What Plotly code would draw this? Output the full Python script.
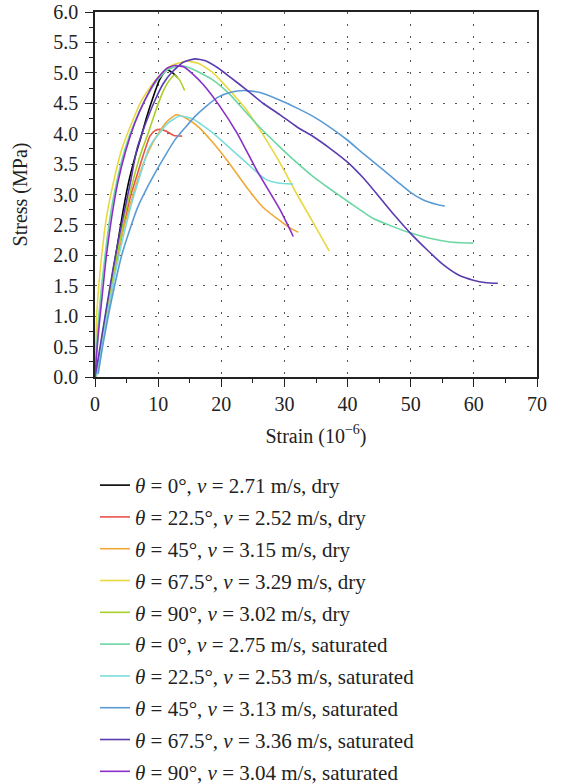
import plotly.graph_objects as go

# Strain (1e-6) and stress (MPa) for each test
labels = [
    "<i>θ</i> = 0°, <i>v</i> = 2.71 m/s, dry",
    "<i>θ</i> = 22.5°, <i>v</i> = 2.52 m/s, dry",
    "<i>θ</i> = 45°, <i>v</i> = 3.15 m/s, dry",
    "<i>θ</i> = 67.5°, <i>v</i> = 3.29 m/s, dry",
    "<i>θ</i> = 90°, <i>v</i> = 3.02 m/s, dry",
    "<i>θ</i> = 0°, <i>v</i> = 2.75 m/s, saturated",
    "<i>θ</i> = 22.5°, <i>v</i> = 2.53 m/s, saturated",
    "<i>θ</i> = 45°, <i>v</i> = 3.13 m/s, saturated",
    "<i>θ</i> = 67.5°, <i>v</i> = 3.36 m/s, saturated",
    "<i>θ</i> = 90°, <i>v</i> = 3.04 m/s, saturated",
]
colors = ["#000000", "#e8534a", "#f0a838", "#e8d840", "#a8d028",
          "#6cd6a4", "#7cdcdc", "#5b9bd5", "#5a3cb0", "#8a2ec8"]

x_dry0 = [0, 0.6, 1.3, 2.0, 2.8, 3.6, 4.4, 5.3, 6.3, 7.3, 8.2, 9.2, 10.2, 11.3, 12.3, 13.0]
y_dry0 = [0, 0.3, 0.75, 1.2, 1.7, 2.2, 2.7, 3.19, 3.6, 3.95, 4.28, 4.6, 4.88, 5.05, 5.0, 4.93]

x_dry22 = [0, 0.7, 1.5, 2.3, 3.1, 3.9, 4.8, 5.7, 6.6, 7.4, 8.7, 9.5, 10.3, 11.3, 12.5, 13.8]
y_dry22 = [0, 0.3, 0.75, 1.2, 1.7, 2.15, 2.6, 3.0, 3.3, 3.57, 3.96, 4.05, 4.07, 4.04, 3.97, 3.96]

x_dry45 = [0.2, 0.9, 2.1, 3.1, 4.2, 5.0, 5.8, 6.8, 7.9, 9.0, 10.0, 11.4, 12.9, 14.5, 16.5, 18.7, 21.0, 24.0, 26.6, 29.8, 31.2, 32.2]
y_dry45 = [0, 0.4, 1.22, 1.8, 2.31, 2.62, 2.91, 3.25, 3.57, 3.82, 4.0, 4.2, 4.31, 4.25, 4.1, 3.85, 3.55, 3.12, 2.79, 2.53, 2.43, 2.38]

x_dry67 = [0, 0.12, 0.26, 0.6, 1.05, 1.84, 2.9, 4.2, 5.8, 7.4, 9.5, 12.1, 14.5, 16.5, 18.7, 21.0, 24.0, 26.5, 29.3, 32.0, 34.6, 37.1]
y_dry67 = [0, 0.5, 1.0, 1.5, 1.99, 2.64, 3.19, 3.73, 4.17, 4.55, 4.87, 5.12, 5.19, 5.15, 5.0, 4.75, 4.39, 4.0, 3.52, 3.0, 2.53, 2.07]

x_dry90 = [0, 0.6, 1.4, 2.2, 3.0, 3.8, 4.7, 5.6, 6.6, 7.5, 8.4, 9.2, 10.0, 10.9, 11.8, 12.6, 13.4, 14.2]
y_dry90 = [0, 0.3, 0.8, 1.25, 1.72, 2.18, 2.65, 3.05, 3.45, 3.75, 4.0, 4.25, 4.49, 4.72, 4.88, 4.96, 4.88, 4.71]

x_sat0 = [0, 0.25, 0.6, 1.0, 1.6, 2.4, 3.4, 4.7, 6.2, 7.9, 9.8, 11.5, 13.5, 15.5, 18.7, 21.5, 24.0, 26.5, 29.3, 32.0, 34.6, 37.5, 40.4, 44.0, 47.0, 49.9, 53.0, 56.2, 59.9]
y_sat0 = [0, 0.5, 1.0, 1.45, 2.0, 2.64, 3.19, 3.73, 4.17, 4.55, 4.87, 5.05, 5.12, 5.06, 4.88, 4.63, 4.34, 4.06, 3.78, 3.52, 3.29, 3.07, 2.86, 2.61, 2.48, 2.37, 2.28, 2.22, 2.2]

x_sat22 = [0.1, 0.8, 1.8, 2.8, 3.8, 4.8, 5.8, 6.8, 7.6, 8.4, 9.2, 10.0, 11.5, 13.4, 15.5, 18.7, 21.5, 24.0, 26.0, 27.2, 29.0, 31.4]
y_sat22 = [0, 0.35, 0.95, 1.5, 2.0, 2.45, 2.85, 3.2, 3.47, 3.73, 3.88, 3.98, 4.17, 4.29, 4.24, 4.01, 3.75, 3.52, 3.33, 3.24, 3.19, 3.17]

x_sat45 = [0.5, 1.2, 2.1, 3.1, 4.2, 5.5, 6.8, 8.1, 9.5, 11.0, 12.6, 14.2, 15.8, 17.6, 19.5, 21.5, 23.5, 26.0, 29.3, 32.0, 34.6, 37.0, 39.9, 42.5, 45.6, 48.0, 49.9, 52.0, 54.0, 55.4]
y_sat45 = [0.05, 0.5, 1.0, 1.5, 1.99, 2.42, 2.8, 3.08, 3.35, 3.62, 3.89, 4.09, 4.28, 4.45, 4.6, 4.68, 4.71, 4.68, 4.55, 4.42, 4.28, 4.12, 3.9, 3.67, 3.41, 3.2, 3.04, 2.91, 2.84, 2.81]

x_sat67 = [0, 0.5, 1.2, 2.0, 2.9, 3.8, 4.8, 5.7, 6.6, 7.6, 8.5, 9.5, 10.8, 12.1, 13.9, 15.8, 17.5, 19.5, 21.4, 24.0, 26.6, 29.3, 32.0, 34.6, 37.2, 39.9, 42.5, 45.1, 47.5, 49.9, 52.5, 55.1, 57.5, 59.9, 62.0, 63.8]
y_sat67 = [0, 0.3, 0.75, 1.25, 1.8, 2.3, 2.8, 3.25, 3.73, 4.05, 4.3, 4.55, 4.82, 5.0, 5.17, 5.23, 5.2, 5.08, 4.93, 4.72, 4.5, 4.31, 4.11, 3.95, 3.76, 3.54, 3.27, 2.95, 2.65, 2.37, 2.1, 1.85, 1.68, 1.59, 1.55, 1.54]

x_sat90 = [0, 0.35, 0.8, 1.3, 1.8, 2.6, 3.6, 4.9, 6.3, 7.9, 9.6, 11.3, 12.6, 14.0, 15.5, 17.2, 19.5, 22.5, 25.6, 29.3, 31.4]
y_sat90 = [0, 0.5, 1.0, 1.5, 2.0, 2.6, 3.19, 3.73, 4.17, 4.55, 4.87, 5.07, 5.12, 5.1, 4.98, 4.8, 4.49, 4.01, 3.4, 2.75, 2.31]

xs = [x_dry0, x_dry22, x_dry45, x_dry67, x_dry90, x_sat0, x_sat22, x_sat45, x_sat67, x_sat90]
ys = [y_dry0, y_dry22, y_dry45, y_dry67, y_dry90, y_sat0, y_sat22, y_sat45, y_sat67, y_sat90]

x_ticks = [0, 10, 20, 30, 40, 50, 60, 70]
y_ticks = [0.0, 0.5, 1.0, 1.5, 2.0, 2.5, 3.0, 3.5, 4.0, 4.5, 5.0, 5.5, 6.0]

FONT = "Liberation Serif"
TXT = "#222222"

fig = go.Figure()
for i in range(len(labels)):
    fig.add_trace(go.Scatter(
        x=xs[i], y=ys[i], mode="lines", name=labels[i],
        legendgroup="g%d" % i,
        line=dict(color=colors[i], width=1.6, shape="spline", smoothing=0.5),
    ))

axis_common = dict(
    showline=True, linecolor=TXT, linewidth=1.5, mirror=True,
    ticks="outside", ticklen=8, tickwidth=1.2, tickcolor=TXT,
    showgrid=True, gridcolor="#555555", gridwidth=1, griddash="2px,10px",
    zeroline=False, automargin=False,
    tickfont=dict(family=FONT, size=20, color=TXT),
)

fig.update_xaxes(
    range=[0, 70], tickvals=x_ticks, ticktext=[str(v) for v in x_ticks],
    ticklabelstandoff=0,
    minor=dict(dtick=5, tick0=0, ticks="outside", ticklen=4, tickcolor=TXT, showgrid=False),
    title=dict(text="Strain (10<sup>−6</sup>)", font=dict(family=FONT, size=20, color=TXT), standoff=15),
    **axis_common,
)
fig.update_yaxes(
    range=[0, 6], tickvals=y_ticks, ticktext=["%.1f" % v for v in y_ticks],
    ticklabelstandoff=3,
    minor=dict(dtick=0.25, tick0=0, ticks="outside", ticklen=4, tickcolor=TXT, showgrid=False),
    title=dict(text="Stress (MPa)", font=dict(family=FONT, size=20, color=TXT), standoff=20),
    **axis_common,
)

fig.update_layout(
    width=562, height=784,
    margin=dict(l=95, r=25, t=12, b=407, autoexpand=False),
    paper_bgcolor="white", plot_bgcolor="white",
    showlegend=True,
    legend=dict(
        x=0.0, xanchor="left", y=-0.241, yanchor="top",
        orientation="v", traceorder="grouped", tracegroupgap=1.5,
        font=dict(family=FONT, size=21, color=TXT),
        bgcolor="rgba(0,0,0,0)",
    ),
)

fig.write_html("out.html")
